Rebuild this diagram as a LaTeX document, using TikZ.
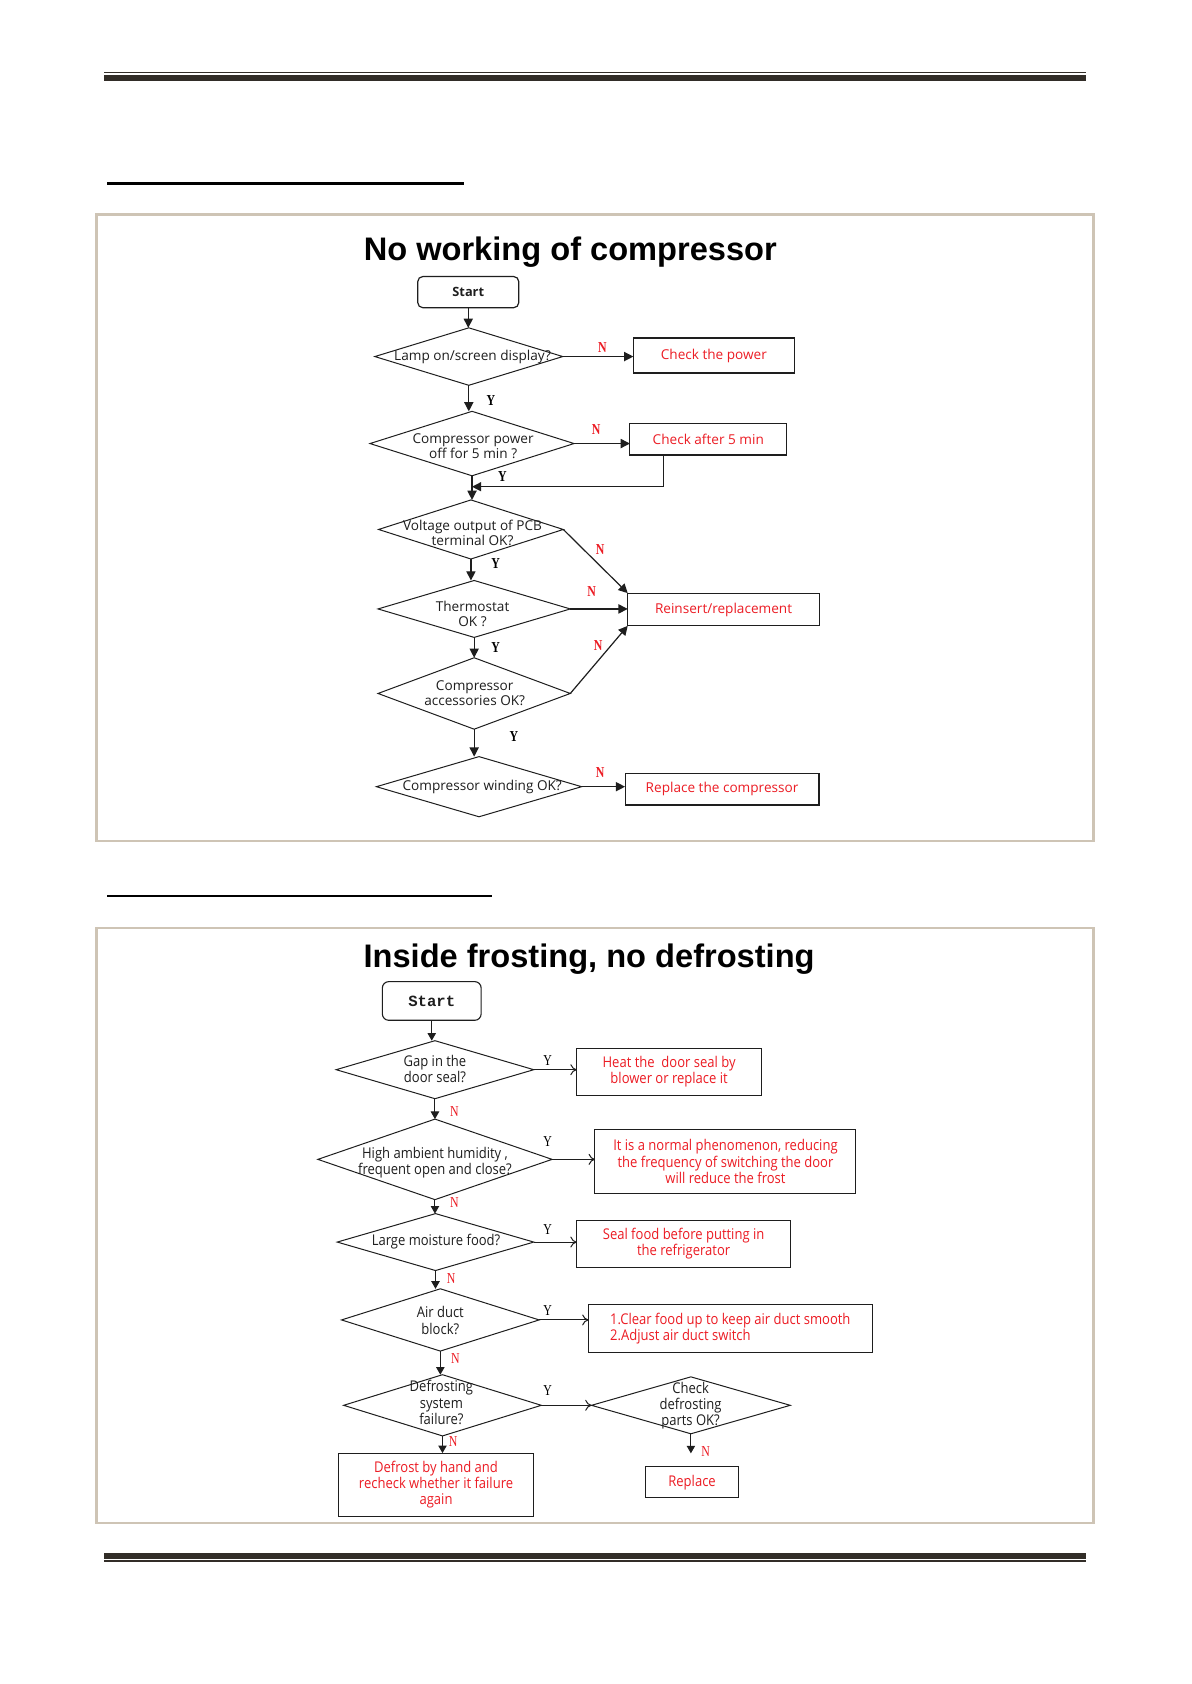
\documentclass[tikz,border=0pt]{standalone}
\usepackage{fontspec}
\setmainfont{Open Sans}
\newfontfamily\titlefont{Liberation Sans}
\newfontfamily\ynfont[FakeStretch=0.78]{Liberation Serif}
\newfontfamily\fctwofont[FakeStretch=0.88]{Open Sans}
\newfontfamily\startfont{Liberation Mono}
\usetikzlibrary{shapes.geometric,arrows.meta,calc}
\newdimen\unitpx \unitpx=0.537pt
\definecolor{framec}{RGB}{206,196,181}
\definecolor{hdrc}{RGB}{50,45,40}
\definecolor{redc}{RGB}{236,28,36}
\definecolor{linec}{RGB}{30,30,30}
\definecolor{txtc}{RGB}{30,30,30}
\tikzset{
  sz/.style n args={2}{minimum width={#1*\unitpx}, minimum height={#2*\unitpx}},
  onefont/.style={font=\fontsize{6.8}{7.6}\selectfont},
  twofont/.style={font=\fctwofont\fontsize{7.4}{8.1}\selectfont},
  dia/.style={diamond, draw=linec, line width=0.5pt, inner sep=0pt, outer sep=0pt},
  dlab/.style={align=center, inner sep=0pt, text=txtc, onefont},
  dlabtwo/.style={align=center, inner sep=0pt, text=txtc, twofont},
  boxone/.style={rectangle, draw=linec, line width=0.55pt, inner sep=0pt, outer sep=0pt, align=center, text=redc, onefont},
  boxtwo/.style={rectangle, draw=linec, line width=0.5pt, inner sep=0pt, outer sep=0pt, align=center, text=redc, twofont},
  startone/.style={rectangle, rounded corners=2.5pt, draw=linec, line width=0.6pt, inner sep=0pt, outer sep=0pt, text=txtc, font=\bfseries\fontsize{6.4}{7}\selectfont},
  starttwo/.style={rectangle, rounded corners=3.2pt, draw=linec, line width=0.55pt, inner sep=0pt, outer sep=0pt, text=txtc, font=\startfont\bfseries\fontsize{7.8}{8}\selectfont},
  arrone/.style={draw=linec, line width=0.6pt, -{Triangle[length=4.6pt,width=4.6pt]}},
  arrtwo/.style={draw=linec, line width=0.5pt, -{To[length=3.2pt,width=5.5pt]}},
  arrtwof/.style={draw=linec, line width=0.5pt, -{Triangle[length=3.8pt,width=4.2pt]}},
  ynone/.style={font=\ynfont\bfseries\fontsize{7.6}{8}\selectfont, inner sep=0pt},
  yntwo/.style={font=\ynfont\fontsize{7.6}{8}\selectfont, inner sep=0pt},
  ttl/.style={font=\titlefont\bfseries\fontsize{16.3}{18}\selectfont, anchor=base, inner sep=0pt},
}
\begin{document}
\begin{tikzpicture}[x=0.537pt, y=-0.537pt]
\useasboundingbox (0,0) rectangle (1109,1568);
\fill[white] (0,0) rectangle (1109,1568);
% page decorations
\draw[hdrc, line width=0.7pt] (97,67.7) -- (1011,67.7);
\draw[hdrc, line width=3pt] (97,72.6) -- (1011,72.6);
\draw[hdrc, line width=3pt] (97,1448.5) -- (1011,1448.5);
\draw[hdrc, line width=1pt] (97,1453.6) -- (1011,1453.6);
\draw[black, line width=1.25pt] (100,171) -- (432,171);
\draw[black, line width=1.25pt] (100,834.5) -- (458,834.5);
\draw[framec, line width=1.3pt] (90,199.5) rectangle (1018,783);
\draw[framec, line width=1.3pt] (90,864) rectangle (1018,1418);

% ===== Flowchart 1 =====
\node[ttl] (t1) at (531,242.7) {No working of compressor};
\node[startone, sz={94}{29}] (s1) at (436,272) {Start};

\node[dia, sz={175}{53.5}] (d1) at (436.5,332) {};
\node[dlab] (d1t) at (440,332) {Lamp on/screen display?};
\node[boxone, sz={150}{32.6}] (b1) at (664.7,331) {Check the power};
\node[ynone, text=redc] (n1) at (561,323.7) {N};
\node[ynone] (y1) at (457,372.5) {Y};

\node[dia, sz={190}{60}] (d2) at (439.5,413) {};
\node[dlab] (d2t) at (440.5,415.5) {Compressor power\\off for 5 min ?};
\node[boxone, sz={146}{29}] (b2) at (659.5,409.2) {Check after 5 min};
\node[ynone, text=redc] (n2) at (555,399.7) {N};
\coordinate (j1) at (439.5,453.2);
\node[ynone] (y2) at (467.7,443.8) {Y};

\node[dia, sz={172}{55}] (d3) at (438.5,493) {};
\node[dlab] (d3t) at (440,496) {Voltage output of PCB\\terminal OK?};
\node[ynone] (y3) at (461.5,525) {Y};
\node[ynone, text=redc] (n3) at (558.7,512) {N};

\node[dia, sz={179}{53}] (d4) at (441.5,567) {};
\node[dlab] (d4t) at (440,572) {Thermostat\\OK ?};
\node[boxone, sz={178.5}{30.5}] (b3) at (673.7,567.5) {Reinsert/replacement};
\node[ynone, text=redc] (n4) at (551,551) {N};
\node[ynone] (y4) at (461.5,603) {Y};

\node[dia, sz={179}{66.5}] (d5) at (441.5,645.7) {};
\node[dlab] (d5t) at (442,645.6) {Compressor\\accessories OK?};
\node[ynone, text=redc] (n5) at (557,601.5) {N};
\node[ynone] (y5) at (478.6,686) {Y};

\node[dia, sz={191}{56}] (d6) at (446,732.5) {};
\node[dlab] (d6t) at (449,733) {Compressor winding OK?};
\node[boxone, sz={180.6}{29}] (b4) at (672.3,735) {Replace the compressor};
\node[ynone, text=redc] (n6) at (558.7,719.5) {N};

\draw[arrone] (s1.south) -- (s1.south |- d1.north);
\draw[arrone] (d1.east) -- (d1.east -| b1.west);
\draw[arrone] (d1.south) -- (d1.south |- d2.north);
\draw[arrone] (d2.east) -- (d2.east -| b2.west);
\draw[arrone] ($(b2.south west)+(31,0)$) |- (j1);
\draw[arrone] (d2.south) -- (d2.south |- d3.north);
\draw[arrone] (d3.east) -- (b3.north west);
\draw[arrone] (d3.south) -- (d3.south |- d4.north);
\draw[arrone] (d4.east) -- (d4.east -| b3.west);
\draw[arrone] (d4.south) -- (d4.south |- d5.north);
\draw[arrone] (d5.east) -- (b3.south west);
\draw[arrone] (d5.south) -- (d5.south |- d6.north);
\draw[arrone] (d6.east) -- (d6.east -| b4.west);

% ===== Flowchart 2 =====
\node[ttl] (t2) at (548.5,901) {Inside frosting, no defrosting};
\node[starttwo, sz={92}{36}] (s2) at (402,932) {Start};

\node[dia, sz={184}{54}] (d7) at (405,996) {};
\node[dlabtwo] (d7t) at (405,995) {Gap in the\\door seal?};
\node[boxtwo, sz={172}{44}] (b5) at (623,998) {Heat the\ \ door seal by\\blower or replace it};
\node[yntwo] (y6) at (510,987) {Y};
\node[yntwo, text=redc] (n7) at (423,1035) {N};

\node[dia, sz={218}{75}] (d8) at (405,1079.5) {};
\node[dlabtwo] (d8t) at (405,1082.5) {High ambient humidity ,\\frequent open and close?};
\node[boxtwo, sz={243}{59}] (b6) at (675.5,1081.5) {It is a normal phenomenon, reducing\\the frequency of switching the door\\will reduce the frost};
\node[yntwo] (y7) at (510,1063) {Y};
\node[yntwo, text=redc] (n8) at (423,1120) {N};

\node[dia, sz={183}{53}] (d9) at (405.5,1156.5) {};
\node[dlabtwo] (d9t) at (406,1156) {Large moisture food?};
\node[boxtwo, sz={199}{44}] (b7) at (636.5,1158) {Seal food before putting in\\the refrigerator};
\node[yntwo] (y8) at (510,1145) {Y};
\node[yntwo, text=redc] (n9) at (420,1190) {N};

\node[dia, sz={184}{58}] (d10) at (410,1229) {};
\node[dlabtwo] (d10t) at (410,1229.5) {Air duct\\block?};
\node[boxtwo, sz={264}{44}, align=left] (b8) at (680,1237) {1.Clear food up to keep air duct smooth\\2.Adjust air duct switch};
\node[yntwo] (y9) at (510,1220) {Y};
\node[yntwo, text=redc] (n10) at (424,1265) {N};

\node[dia, sz={184}{57}] (d11) at (412,1308.5) {};
\node[dlabtwo] (d11t) at (411,1306) {Defrosting\\system\\failure?};
\node[dia, sz={185}{53}] (d12) at (643.3,1308.5) {};
\node[dlabtwo] (d12t) at (643,1309) {Check\\defrosting\\parts OK?};
\node[yntwo] (y10) at (510,1295) {Y};
\node[boxtwo, sz={86.3}{29}] (b9) at (644.4,1380.2) {Replace};
\node[yntwo, text=redc] (n11) at (657,1351.8) {N};
\node[boxtwo, sz={182}{59}] (b10) at (406,1382.5) {Defrost by hand and\\recheck whether it failure\\again};
\node[yntwo, text=redc] (n12) at (422,1342) {N};

\draw[arrtwof] (s2.south) -- (s2.south |- d7.north);
\draw[arrtwo] (d7.east) -- (d7.east -| b5.west);
\draw[arrtwof] (d7.south) -- (d7.south |- d8.north);
\draw[arrtwo] (d8.east) -- (d8.east -| b6.west);
\draw[arrtwof] (d8.south) -- (d8.south |- d9.north);
\draw[arrtwo] (d9.east) -- (d9.east -| b7.west);
\draw[arrtwof] (d9.south) -- (d9.south |- d10.north);
\draw[arrtwo] (d10.east) -- (d10.east -| b8.west);
\draw[arrtwof] (d10.south) -- (d10.south |- d11.north);
\draw[arrtwo] (d11.east) -- (d11.east -| d12.west);
\draw[arrtwof] (d11.south) -- (d11.south |- b10.north);
\draw[arrtwof, shorten >=6.7pt] (d12.south) -- (d12.south |- b9.north);
\end{tikzpicture}
\end{document}
